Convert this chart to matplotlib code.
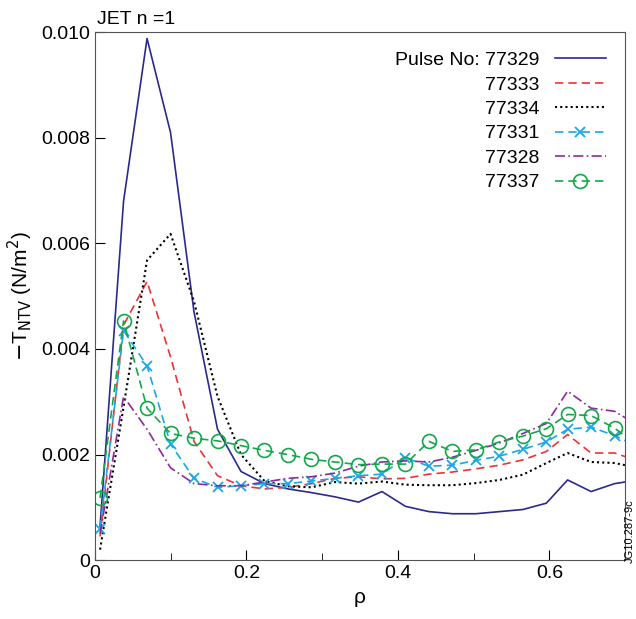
import numpy as np
import matplotlib
matplotlib.use("Agg")
import matplotlib.pyplot as plt
from matplotlib.ticker import MultipleLocator

plt.rcParams['font.family'] = ['Liberation Sans', 'DejaVu Sans']

rho = [0.007, 0.038, 0.069, 0.100, 0.131, 0.162, 0.193, 0.224, 0.255, 0.286, 0.317, 0.348,
       0.379, 0.410, 0.441, 0.472, 0.503, 0.534, 0.565, 0.596, 0.624, 0.655, 0.686, 0.717]

t77329 = [0.65, 6.8, 9.88, 8.1, 4.7, 2.48, 1.68, 1.45, 1.35, 1.28, 1.2, 1.1,
          1.3, 1.02, 0.92, 0.88, 0.88, 0.92, 0.96, 1.08, 1.52, 1.3, 1.45, 1.52]
t77333 = [0.45, 4.45, 5.28, 3.85, 2.25, 1.6, 1.41, 1.35, 1.38, 1.45, 1.55, 1.58,
          1.54, 1.55, 1.63, 1.67, 1.73, 1.8, 1.9, 2.06, 2.38, 2.03, 2.03, 1.88]
t77334 = [0.2, 2.9, 5.68, 6.18, 4.9, 3.1, 2.0, 1.5, 1.4, 1.38, 1.48, 1.45,
          1.49, 1.43, 1.42, 1.42, 1.46, 1.52, 1.62, 1.84, 2.03, 1.86, 1.84, 1.75]
t77331 = [0.6, 4.35, 3.68, 2.2, 1.55, 1.38, 1.41, 1.45, 1.45, 1.5, 1.55, 1.6,
          1.63, 1.94, 1.78, 1.8, 1.89, 1.97, 2.1, 2.24, 2.48, 2.52, 2.36, 2.15]
t77328 = [0.5, 3.1, 2.48, 1.75, 1.45, 1.41, 1.41, 1.48, 1.55, 1.58, 1.65, 1.78,
          1.86, 1.88, 1.86, 1.95, 2.08, 2.22, 2.4, 2.59, 3.2, 2.88, 2.82, 2.55]
t77337 = [1.18, 4.53, 2.88, 2.4, 2.31, 2.26, 2.17, 2.08, 2.0, 1.91, 1.86, 1.81,
          1.82, 1.82, 2.25, 2.06, 2.09, 2.24, 2.35, 2.49, 2.76, 2.74, 2.5, 2.17]

scale = 1e-3

fig = plt.figure(figsize=(6.36, 6.19), dpi=100)
ax = fig.add_axes([0.149, 0.095, 0.834, 0.853])

ax.plot(rho, np.array(t77329) * scale, color='#2a2a8c', lw=1.2, ls='-', label='Pulse No: 77329')
ax.plot(rho, np.array(t77333) * scale, color='#ee3333', lw=1.2, ls=(0, (5, 3)), label='77333')
ax.plot(rho, np.array(t77334) * scale, color='black', lw=1.5, ls=(0, (1, 1.5)), label='77334')
ax.plot(rho, np.array(t77331) * scale, color='#1aa7e8', lw=1.2, ls=(0, (5, 3)), marker='x',
        ms=7, mew=1.3, label='77331')
ax.plot(rho, np.array(t77328) * scale, color='#8b2a9a', lw=1.2, ls=(0, (6, 2, 1, 2)), label='77328')
ax.plot(rho, np.array(t77337) * scale, color='#12a84a', lw=1.2, ls=(0, (5, 3)), marker='o',
        ms=10, mfc='none', mew=1.2, label='77337')

ax.set_xlim(0, 0.7)
ax.set_ylim(0, 0.010)
ax.xaxis.set_major_locator(MultipleLocator(0.2))
ax.xaxis.set_minor_locator(MultipleLocator(0.1))
ax.yaxis.set_major_locator(MultipleLocator(0.002))
ax.set_xticklabels(['', '0', '0.2', '0.4', '0.6'])
ax.set_yticklabels(['', '0', '0.002', '0.004', '0.006', '0.008', '0.010'])
ax.tick_params(direction='in', labelsize=14, length=7)
ax.tick_params(which='minor', direction='in', length=5)
for s in ax.spines.values():
    s.set_color('#555555')

ax.set_xlabel('ρ', fontsize=15)
ax.set_ylabel(r'$-$T$_{\mathrm{NTV}}$ (N/m$^2$)', fontsize=15)
fig.text(0.152, 0.955, 'JET n =1', fontsize=14, va='bottom')
fig.text(0.99, 0.09, 'JG10.287-9c', fontsize=8, rotation=90, va='bottom', ha='center')

ax.legend(loc='upper right', frameon=False, fontsize=14, markerfirst=False,
          handlelength=2.6, labelspacing=0.35, borderaxespad=0.6)

fig.savefig('out.png', dpi=100)
